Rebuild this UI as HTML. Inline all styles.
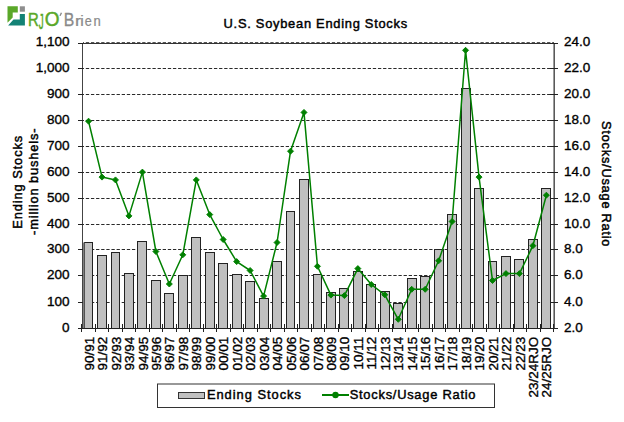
<!DOCTYPE html><html><head><meta charset="utf-8"><style>
html,body{margin:0;padding:0;background:#fff;width:624px;height:422px;overflow:hidden}
svg{display:block}
text{font-family:"Liberation Sans", sans-serif}
</style></head><body>
<svg width="624" height="422" viewBox="0 0 624 422">
<rect width="624" height="422" fill="#fff"/>
<polygon points="7.5,6.3 17.8,6.3 17.8,12.5 12.7,12.5 12.7,17.4 7.5,22.8" fill="#5aa829"/>
<rect x="19.8" y="6.3" width="5.1" height="5.4" fill="#8e8e8e"/>
<polygon points="19.8,14 24.9,14 24.9,25.6 8.1,25.6 13.5,19.6 19.8,19.6" fill="#138275"/>
<text transform="translate(28.08,25.90) scale(0.80,1.00)" font-size="18.6" fill="#5aa829" stroke="#5aa829" stroke-width="0.45">R</text>
<text transform="translate(38.74,28.70) scale(0.53,1.21)" font-size="18.6" fill="#5aa829" stroke="#5aa829" stroke-width="0.45">J</text>
<text transform="translate(44.70,26.00) scale(1.02,1.04)" font-size="18.6" fill="#5aa829" stroke="#5aa829" stroke-width="0.45">O</text>
<text transform="translate(63.70,25.90) scale(0.85,0.95)" font-size="18.6" fill="#8a8a8a" stroke="#8a8a8a" stroke-width="0.30">B</text>
<text transform="translate(75.10,25.90) scale(0.97,0.81)" font-size="18.6" fill="#8a8a8a" stroke="#8a8a8a" stroke-width="0.30">r</text>
<text transform="translate(80.14,25.90) scale(0.85,0.81)" font-size="18.6" fill="#8a8a8a" stroke="#8a8a8a" stroke-width="0.30">i</text>
<text transform="translate(84.87,25.90) scale(0.68,0.81)" font-size="18.6" fill="#8a8a8a" stroke="#8a8a8a" stroke-width="0.30">e</text>
<text transform="translate(93.44,25.90) scale(0.70,0.81)" font-size="18.6" fill="#8a8a8a" stroke="#8a8a8a" stroke-width="0.30">n</text>
<polygon points="60.8,12.6 62.1,12.9 60.6,15.9 59.4,15.7" fill="#8a8a8a"/>
<text x="223.6" y="28" font-size="12.9" fill="#000" stroke="#000" stroke-width="0.45" letter-spacing="0.72">U.S. Soybean Ending Stocks</text>
<line x1="83" y1="302.5" x2="554" y2="302.5" stroke="#2a2a2a" stroke-width="1.1" stroke-dasharray="3.3 1.825" stroke-dashoffset="2.3"/>
<line x1="83" y1="275.5" x2="554" y2="275.5" stroke="#2a2a2a" stroke-width="1.1" stroke-dasharray="3.3 1.825" stroke-dashoffset="2.3"/>
<line x1="83" y1="249.5" x2="554" y2="249.5" stroke="#2a2a2a" stroke-width="1.1" stroke-dasharray="3.3 1.825" stroke-dashoffset="2.3"/>
<line x1="83" y1="224.5" x2="554" y2="224.5" stroke="#2a2a2a" stroke-width="1.1" stroke-dasharray="3.3 1.825" stroke-dashoffset="2.3"/>
<line x1="83" y1="198.5" x2="554" y2="198.5" stroke="#2a2a2a" stroke-width="1.1" stroke-dasharray="3.3 1.825" stroke-dashoffset="2.3"/>
<line x1="83" y1="172.5" x2="554" y2="172.5" stroke="#2a2a2a" stroke-width="1.1" stroke-dasharray="3.3 1.825" stroke-dashoffset="2.3"/>
<line x1="83" y1="146.5" x2="554" y2="146.5" stroke="#2a2a2a" stroke-width="1.1" stroke-dasharray="3.3 1.825" stroke-dashoffset="2.3"/>
<line x1="83" y1="120.5" x2="554" y2="120.5" stroke="#2a2a2a" stroke-width="1.1" stroke-dasharray="3.3 1.825" stroke-dashoffset="2.3"/>
<line x1="83" y1="94.5" x2="554" y2="94.5" stroke="#2a2a2a" stroke-width="1.1" stroke-dasharray="3.3 1.825" stroke-dashoffset="2.3"/>
<line x1="83" y1="68.5" x2="554" y2="68.5" stroke="#2a2a2a" stroke-width="1.1" stroke-dasharray="3.3 1.825" stroke-dashoffset="2.3"/>
<line x1="83" y1="42.5" x2="554" y2="42.5" stroke="#555" stroke-width="1" stroke-dasharray="3.3 1.825" stroke-dashoffset="2.3"/>
<line x1="82" y1="43.5" x2="554" y2="43.5" stroke="#333" stroke-width="1"/>
<rect x="84.5" y="242.5" width="8.0" height="86.0" fill="#c0c0c0" stroke="#222" stroke-width="1"/>
<rect x="97.5" y="255.5" width="9.0" height="73.0" fill="#c0c0c0" stroke="#222" stroke-width="1"/>
<rect x="111.5" y="252.5" width="8.0" height="76.0" fill="#c0c0c0" stroke="#222" stroke-width="1"/>
<rect x="124.5" y="273.5" width="9.0" height="55.0" fill="#c0c0c0" stroke="#222" stroke-width="1"/>
<rect x="137.5" y="241.5" width="9.0" height="87.0" fill="#c0c0c0" stroke="#222" stroke-width="1"/>
<rect x="151.5" y="280.5" width="9.0" height="48.0" fill="#c0c0c0" stroke="#222" stroke-width="1"/>
<rect x="164.5" y="293.5" width="9.0" height="35.0" fill="#c0c0c0" stroke="#222" stroke-width="1"/>
<rect x="178.5" y="275.5" width="9.0" height="53.0" fill="#c0c0c0" stroke="#222" stroke-width="1"/>
<rect x="191.5" y="237.5" width="9.0" height="91.0" fill="#c0c0c0" stroke="#222" stroke-width="1"/>
<rect x="205.5" y="252.5" width="9.0" height="76.0" fill="#c0c0c0" stroke="#222" stroke-width="1"/>
<rect x="218.5" y="263.5" width="9.0" height="65.0" fill="#c0c0c0" stroke="#222" stroke-width="1"/>
<rect x="232.5" y="274.5" width="9.0" height="54.0" fill="#c0c0c0" stroke="#222" stroke-width="1"/>
<rect x="245.5" y="281.5" width="9.0" height="47.0" fill="#c0c0c0" stroke="#222" stroke-width="1"/>
<rect x="259.5" y="298.5" width="9.0" height="30.0" fill="#c0c0c0" stroke="#222" stroke-width="1"/>
<rect x="272.5" y="261.5" width="9.0" height="67.0" fill="#c0c0c0" stroke="#222" stroke-width="1"/>
<rect x="286.5" y="211.5" width="8.0" height="117.0" fill="#c0c0c0" stroke="#222" stroke-width="1"/>
<rect x="299.5" y="179.5" width="9.0" height="149.0" fill="#c0c0c0" stroke="#222" stroke-width="1"/>
<rect x="313.5" y="274.5" width="8.0" height="54.0" fill="#c0c0c0" stroke="#222" stroke-width="1"/>
<rect x="326.5" y="292.5" width="9.0" height="36.0" fill="#c0c0c0" stroke="#222" stroke-width="1"/>
<rect x="339.5" y="288.5" width="9.0" height="40.0" fill="#c0c0c0" stroke="#222" stroke-width="1"/>
<rect x="353.5" y="271.5" width="9.0" height="57.0" fill="#c0c0c0" stroke="#222" stroke-width="1"/>
<rect x="366.5" y="284.5" width="9.0" height="44.0" fill="#c0c0c0" stroke="#222" stroke-width="1"/>
<rect x="380.5" y="291.5" width="9.0" height="37.0" fill="#c0c0c0" stroke="#222" stroke-width="1"/>
<rect x="393.5" y="303.5" width="9.0" height="25.0" fill="#c0c0c0" stroke="#222" stroke-width="1"/>
<rect x="407.5" y="278.5" width="9.0" height="50.0" fill="#c0c0c0" stroke="#222" stroke-width="1"/>
<rect x="420.5" y="276.5" width="9.0" height="52.0" fill="#c0c0c0" stroke="#222" stroke-width="1"/>
<rect x="434.5" y="249.5" width="9.0" height="79.0" fill="#c0c0c0" stroke="#222" stroke-width="1"/>
<rect x="447.5" y="214.5" width="9.0" height="114.0" fill="#c0c0c0" stroke="#222" stroke-width="1"/>
<rect x="461.5" y="88.5" width="9.0" height="240.0" fill="#c0c0c0" stroke="#222" stroke-width="1"/>
<rect x="474.5" y="188.5" width="9.0" height="140.0" fill="#c0c0c0" stroke="#222" stroke-width="1"/>
<rect x="488.5" y="261.5" width="8.0" height="67.0" fill="#c0c0c0" stroke="#222" stroke-width="1"/>
<rect x="501.5" y="256.5" width="9.0" height="72.0" fill="#c0c0c0" stroke="#222" stroke-width="1"/>
<rect x="514.5" y="259.5" width="9.0" height="69.0" fill="#c0c0c0" stroke="#222" stroke-width="1"/>
<rect x="528.5" y="239.5" width="9.0" height="89.0" fill="#c0c0c0" stroke="#222" stroke-width="1"/>
<rect x="541.5" y="188.5" width="9.0" height="140.0" fill="#c0c0c0" stroke="#222" stroke-width="1"/>
<rect x="82" y="242.5" width="2.5" height="86.0" fill="#808080"/>
<line x1="82.5" y1="43" x2="82.5" y2="329" stroke="#444" stroke-width="1"/>
<line x1="554.2" y1="43" x2="554.2" y2="329" stroke="#5a5a5a" stroke-width="1.6"/>
<line x1="78" y1="328.5" x2="557" y2="328.5" stroke="#222" stroke-width="1"/>
<line x1="78" y1="328.5" x2="83" y2="328.5" stroke="#222" stroke-width="1"/>
<line x1="550" y1="328.5" x2="558" y2="328.5" stroke="#222" stroke-width="1"/>
<line x1="78" y1="302.5" x2="83" y2="302.5" stroke="#222" stroke-width="1"/>
<line x1="550" y1="302.5" x2="558" y2="302.5" stroke="#222" stroke-width="1"/>
<line x1="78" y1="275.5" x2="83" y2="275.5" stroke="#222" stroke-width="1"/>
<line x1="550" y1="275.5" x2="558" y2="275.5" stroke="#222" stroke-width="1"/>
<line x1="78" y1="249.5" x2="83" y2="249.5" stroke="#222" stroke-width="1"/>
<line x1="550" y1="249.5" x2="558" y2="249.5" stroke="#222" stroke-width="1"/>
<line x1="78" y1="224.5" x2="83" y2="224.5" stroke="#222" stroke-width="1"/>
<line x1="550" y1="224.5" x2="558" y2="224.5" stroke="#222" stroke-width="1"/>
<line x1="78" y1="198.5" x2="83" y2="198.5" stroke="#222" stroke-width="1"/>
<line x1="550" y1="198.5" x2="558" y2="198.5" stroke="#222" stroke-width="1"/>
<line x1="78" y1="172.5" x2="83" y2="172.5" stroke="#222" stroke-width="1"/>
<line x1="550" y1="172.5" x2="558" y2="172.5" stroke="#222" stroke-width="1"/>
<line x1="78" y1="146.5" x2="83" y2="146.5" stroke="#222" stroke-width="1"/>
<line x1="550" y1="146.5" x2="558" y2="146.5" stroke="#222" stroke-width="1"/>
<line x1="78" y1="120.5" x2="83" y2="120.5" stroke="#222" stroke-width="1"/>
<line x1="550" y1="120.5" x2="558" y2="120.5" stroke="#222" stroke-width="1"/>
<line x1="78" y1="94.5" x2="83" y2="94.5" stroke="#222" stroke-width="1"/>
<line x1="550" y1="94.5" x2="558" y2="94.5" stroke="#222" stroke-width="1"/>
<line x1="78" y1="68.5" x2="83" y2="68.5" stroke="#222" stroke-width="1"/>
<line x1="550" y1="68.5" x2="558" y2="68.5" stroke="#222" stroke-width="1"/>
<line x1="78" y1="43.5" x2="83" y2="43.5" stroke="#222" stroke-width="1"/>
<line x1="550" y1="43.5" x2="558" y2="43.5" stroke="#222" stroke-width="1"/>
<line x1="81.5" y1="324" x2="81.5" y2="332" stroke="#222" stroke-width="1"/>
<line x1="95.5" y1="324" x2="95.5" y2="332" stroke="#222" stroke-width="1"/>
<line x1="108.5" y1="324" x2="108.5" y2="332" stroke="#222" stroke-width="1"/>
<line x1="122.5" y1="324" x2="122.5" y2="332" stroke="#222" stroke-width="1"/>
<line x1="135.5" y1="324" x2="135.5" y2="332" stroke="#222" stroke-width="1"/>
<line x1="149.5" y1="324" x2="149.5" y2="332" stroke="#222" stroke-width="1"/>
<line x1="162.5" y1="324" x2="162.5" y2="332" stroke="#222" stroke-width="1"/>
<line x1="176.5" y1="324" x2="176.5" y2="332" stroke="#222" stroke-width="1"/>
<line x1="189.5" y1="324" x2="189.5" y2="332" stroke="#222" stroke-width="1"/>
<line x1="203.5" y1="324" x2="203.5" y2="332" stroke="#222" stroke-width="1"/>
<line x1="216.5" y1="324" x2="216.5" y2="332" stroke="#222" stroke-width="1"/>
<line x1="230.5" y1="324" x2="230.5" y2="332" stroke="#222" stroke-width="1"/>
<line x1="243.5" y1="324" x2="243.5" y2="332" stroke="#222" stroke-width="1"/>
<line x1="257.5" y1="324" x2="257.5" y2="332" stroke="#222" stroke-width="1"/>
<line x1="270.5" y1="324" x2="270.5" y2="332" stroke="#222" stroke-width="1"/>
<line x1="284.5" y1="324" x2="284.5" y2="332" stroke="#222" stroke-width="1"/>
<line x1="297.5" y1="324" x2="297.5" y2="332" stroke="#222" stroke-width="1"/>
<line x1="311.5" y1="324" x2="311.5" y2="332" stroke="#222" stroke-width="1"/>
<line x1="324.5" y1="324" x2="324.5" y2="332" stroke="#222" stroke-width="1"/>
<line x1="338.5" y1="324" x2="338.5" y2="332" stroke="#222" stroke-width="1"/>
<line x1="351.5" y1="324" x2="351.5" y2="332" stroke="#222" stroke-width="1"/>
<line x1="365.5" y1="324" x2="365.5" y2="332" stroke="#222" stroke-width="1"/>
<line x1="378.5" y1="324" x2="378.5" y2="332" stroke="#222" stroke-width="1"/>
<line x1="392.5" y1="324" x2="392.5" y2="332" stroke="#222" stroke-width="1"/>
<line x1="405.5" y1="324" x2="405.5" y2="332" stroke="#222" stroke-width="1"/>
<line x1="418.5" y1="324" x2="418.5" y2="332" stroke="#222" stroke-width="1"/>
<line x1="432.5" y1="324" x2="432.5" y2="332" stroke="#222" stroke-width="1"/>
<line x1="445.5" y1="324" x2="445.5" y2="332" stroke="#222" stroke-width="1"/>
<line x1="459.5" y1="324" x2="459.5" y2="332" stroke="#222" stroke-width="1"/>
<line x1="472.5" y1="324" x2="472.5" y2="332" stroke="#222" stroke-width="1"/>
<line x1="486.5" y1="324" x2="486.5" y2="332" stroke="#222" stroke-width="1"/>
<line x1="499.5" y1="324" x2="499.5" y2="332" stroke="#222" stroke-width="1"/>
<line x1="513.5" y1="324" x2="513.5" y2="332" stroke="#222" stroke-width="1"/>
<line x1="526.5" y1="324" x2="526.5" y2="332" stroke="#222" stroke-width="1"/>
<line x1="540.5" y1="324" x2="540.5" y2="332" stroke="#222" stroke-width="1"/>
<line x1="553.5" y1="324" x2="553.5" y2="332" stroke="#222" stroke-width="1"/>
<polyline points="88.55,121.20 102.02,177.10 115.48,179.90 128.94,215.90 142.41,172.10 155.88,251.50 169.34,284.00 182.81,254.80 196.27,179.90 209.74,214.60 223.20,239.50 236.67,261.60 250.13,270.50 263.59,296.10 277.06,242.50 290.52,151.20 303.99,112.40 317.45,266.30 330.92,295.10 344.38,295.60 357.85,268.60 371.31,284.50 384.78,294.80 398.25,319.30 411.71,289.30 425.18,289.30 438.64,260.80 452.11,221.50 465.57,50.30 479.04,177.10 492.50,280.50 505.97,273.60 519.43,273.60 532.89,245.70 546.36,195.20" fill="none" stroke="#008000" stroke-width="1.5" stroke-linejoin="round"/>
<polygon points="85.55,121.20 88.55,118.20 91.55,121.20 88.55,124.20" fill="#008000" stroke="#008000" stroke-width="0.9" stroke-linejoin="round"/>
<polygon points="99.02,177.10 102.02,174.10 105.02,177.10 102.02,180.10" fill="#008000" stroke="#008000" stroke-width="0.9" stroke-linejoin="round"/>
<polygon points="112.48,179.90 115.48,176.90 118.48,179.90 115.48,182.90" fill="#008000" stroke="#008000" stroke-width="0.9" stroke-linejoin="round"/>
<polygon points="125.94,215.90 128.94,212.90 131.94,215.90 128.94,218.90" fill="#008000" stroke="#008000" stroke-width="0.9" stroke-linejoin="round"/>
<polygon points="139.41,172.10 142.41,169.10 145.41,172.10 142.41,175.10" fill="#008000" stroke="#008000" stroke-width="0.9" stroke-linejoin="round"/>
<polygon points="152.88,251.50 155.88,248.50 158.88,251.50 155.88,254.50" fill="#008000" stroke="#008000" stroke-width="0.9" stroke-linejoin="round"/>
<polygon points="166.34,284.00 169.34,281.00 172.34,284.00 169.34,287.00" fill="#008000" stroke="#008000" stroke-width="0.9" stroke-linejoin="round"/>
<polygon points="179.81,254.80 182.81,251.80 185.81,254.80 182.81,257.80" fill="#008000" stroke="#008000" stroke-width="0.9" stroke-linejoin="round"/>
<polygon points="193.27,179.90 196.27,176.90 199.27,179.90 196.27,182.90" fill="#008000" stroke="#008000" stroke-width="0.9" stroke-linejoin="round"/>
<polygon points="206.74,214.60 209.74,211.60 212.74,214.60 209.74,217.60" fill="#008000" stroke="#008000" stroke-width="0.9" stroke-linejoin="round"/>
<polygon points="220.20,239.50 223.20,236.50 226.20,239.50 223.20,242.50" fill="#008000" stroke="#008000" stroke-width="0.9" stroke-linejoin="round"/>
<polygon points="233.67,261.60 236.67,258.60 239.67,261.60 236.67,264.60" fill="#008000" stroke="#008000" stroke-width="0.9" stroke-linejoin="round"/>
<polygon points="247.13,270.50 250.13,267.50 253.13,270.50 250.13,273.50" fill="#008000" stroke="#008000" stroke-width="0.9" stroke-linejoin="round"/>
<polygon points="260.59,296.10 263.59,293.10 266.59,296.10 263.59,299.10" fill="#008000" stroke="#008000" stroke-width="0.9" stroke-linejoin="round"/>
<polygon points="274.06,242.50 277.06,239.50 280.06,242.50 277.06,245.50" fill="#008000" stroke="#008000" stroke-width="0.9" stroke-linejoin="round"/>
<polygon points="287.52,151.20 290.52,148.20 293.52,151.20 290.52,154.20" fill="#008000" stroke="#008000" stroke-width="0.9" stroke-linejoin="round"/>
<polygon points="300.99,112.40 303.99,109.40 306.99,112.40 303.99,115.40" fill="#008000" stroke="#008000" stroke-width="0.9" stroke-linejoin="round"/>
<polygon points="314.45,266.30 317.45,263.30 320.45,266.30 317.45,269.30" fill="#008000" stroke="#008000" stroke-width="0.9" stroke-linejoin="round"/>
<polygon points="327.92,295.10 330.92,292.10 333.92,295.10 330.92,298.10" fill="#008000" stroke="#008000" stroke-width="0.9" stroke-linejoin="round"/>
<polygon points="341.38,295.60 344.38,292.60 347.38,295.60 344.38,298.60" fill="#008000" stroke="#008000" stroke-width="0.9" stroke-linejoin="round"/>
<polygon points="354.85,268.60 357.85,265.60 360.85,268.60 357.85,271.60" fill="#008000" stroke="#008000" stroke-width="0.9" stroke-linejoin="round"/>
<polygon points="368.31,284.50 371.31,281.50 374.31,284.50 371.31,287.50" fill="#008000" stroke="#008000" stroke-width="0.9" stroke-linejoin="round"/>
<polygon points="381.78,294.80 384.78,291.80 387.78,294.80 384.78,297.80" fill="#008000" stroke="#008000" stroke-width="0.9" stroke-linejoin="round"/>
<polygon points="395.25,319.30 398.25,316.30 401.25,319.30 398.25,322.30" fill="#008000" stroke="#008000" stroke-width="0.9" stroke-linejoin="round"/>
<polygon points="408.71,289.30 411.71,286.30 414.71,289.30 411.71,292.30" fill="#008000" stroke="#008000" stroke-width="0.9" stroke-linejoin="round"/>
<polygon points="422.18,289.30 425.18,286.30 428.18,289.30 425.18,292.30" fill="#008000" stroke="#008000" stroke-width="0.9" stroke-linejoin="round"/>
<polygon points="435.64,260.80 438.64,257.80 441.64,260.80 438.64,263.80" fill="#008000" stroke="#008000" stroke-width="0.9" stroke-linejoin="round"/>
<polygon points="449.11,221.50 452.11,218.50 455.11,221.50 452.11,224.50" fill="#008000" stroke="#008000" stroke-width="0.9" stroke-linejoin="round"/>
<polygon points="462.57,50.30 465.57,47.30 468.57,50.30 465.57,53.30" fill="#008000" stroke="#008000" stroke-width="0.9" stroke-linejoin="round"/>
<polygon points="476.04,177.10 479.04,174.10 482.04,177.10 479.04,180.10" fill="#008000" stroke="#008000" stroke-width="0.9" stroke-linejoin="round"/>
<polygon points="489.50,280.50 492.50,277.50 495.50,280.50 492.50,283.50" fill="#008000" stroke="#008000" stroke-width="0.9" stroke-linejoin="round"/>
<polygon points="502.97,273.60 505.97,270.60 508.97,273.60 505.97,276.60" fill="#008000" stroke="#008000" stroke-width="0.9" stroke-linejoin="round"/>
<polygon points="516.43,273.60 519.43,270.60 522.43,273.60 519.43,276.60" fill="#008000" stroke="#008000" stroke-width="0.9" stroke-linejoin="round"/>
<polygon points="529.89,245.70 532.89,242.70 535.89,245.70 532.89,248.70" fill="#008000" stroke="#008000" stroke-width="0.9" stroke-linejoin="round"/>
<polygon points="543.36,195.20 546.36,192.20 549.36,195.20 546.36,198.20" fill="#008000" stroke="#008000" stroke-width="0.9" stroke-linejoin="round"/>
<text x="69.5" y="331.9" font-size="13.5" text-anchor="end" fill="#000" stroke="#000" stroke-width="0.35">0</text>
<text x="69.5" y="305.9" font-size="13.5" text-anchor="end" fill="#000" stroke="#000" stroke-width="0.35">100</text>
<text x="69.5" y="278.9" font-size="13.5" text-anchor="end" fill="#000" stroke="#000" stroke-width="0.35">200</text>
<text x="69.5" y="252.8" font-size="13.5" text-anchor="end" fill="#000" stroke="#000" stroke-width="0.35">300</text>
<text x="69.5" y="227.8" font-size="13.5" text-anchor="end" fill="#000" stroke="#000" stroke-width="0.35">400</text>
<text x="69.5" y="201.8" font-size="13.5" text-anchor="end" fill="#000" stroke="#000" stroke-width="0.35">500</text>
<text x="69.5" y="175.8" font-size="13.5" text-anchor="end" fill="#000" stroke="#000" stroke-width="0.35">600</text>
<text x="69.5" y="149.8" font-size="13.5" text-anchor="end" fill="#000" stroke="#000" stroke-width="0.35">700</text>
<text x="69.5" y="123.8" font-size="13.5" text-anchor="end" fill="#000" stroke="#000" stroke-width="0.35">800</text>
<text x="69.5" y="97.8" font-size="13.5" text-anchor="end" fill="#000" stroke="#000" stroke-width="0.35">900</text>
<text x="69.5" y="71.8" font-size="13.5" text-anchor="end" fill="#000" stroke="#000" stroke-width="0.35">1,000</text>
<text x="69.5" y="45.7" font-size="13.5" text-anchor="end" fill="#000" stroke="#000" stroke-width="0.35">1,100</text>
<text x="564" y="331.9" font-size="13.5" fill="#000" stroke="#000" stroke-width="0.35">2.0</text>
<text x="564" y="305.9" font-size="13.5" fill="#000" stroke="#000" stroke-width="0.35">4.0</text>
<text x="564" y="278.9" font-size="13.5" fill="#000" stroke="#000" stroke-width="0.35">6.0</text>
<text x="564" y="252.8" font-size="13.5" fill="#000" stroke="#000" stroke-width="0.35">8.0</text>
<text x="564" y="227.8" font-size="13.5" fill="#000" stroke="#000" stroke-width="0.35">10.0</text>
<text x="564" y="201.8" font-size="13.5" fill="#000" stroke="#000" stroke-width="0.35">12.0</text>
<text x="564" y="175.8" font-size="13.5" fill="#000" stroke="#000" stroke-width="0.35">14.0</text>
<text x="564" y="149.8" font-size="13.5" fill="#000" stroke="#000" stroke-width="0.35">16.0</text>
<text x="564" y="123.8" font-size="13.5" fill="#000" stroke="#000" stroke-width="0.35">18.0</text>
<text x="564" y="97.8" font-size="13.5" fill="#000" stroke="#000" stroke-width="0.35">20.0</text>
<text x="564" y="71.8" font-size="13.5" fill="#000" stroke="#000" stroke-width="0.35">22.0</text>
<text x="564" y="45.8" font-size="13.5" fill="#000" stroke="#000" stroke-width="0.35">24.0</text>
<text transform="translate(93.65,336.7) rotate(-90)" font-size="13.5" text-anchor="end" fill="#000" stroke="#000" stroke-width="0.35">90/91</text>
<text transform="translate(107.11,336.7) rotate(-90)" font-size="13.5" text-anchor="end" fill="#000" stroke="#000" stroke-width="0.35">91/92</text>
<text transform="translate(120.58,336.7) rotate(-90)" font-size="13.5" text-anchor="end" fill="#000" stroke="#000" stroke-width="0.35">92/93</text>
<text transform="translate(134.04,336.7) rotate(-90)" font-size="13.5" text-anchor="end" fill="#000" stroke="#000" stroke-width="0.35">93/94</text>
<text transform="translate(147.51,336.7) rotate(-90)" font-size="13.5" text-anchor="end" fill="#000" stroke="#000" stroke-width="0.35">94/95</text>
<text transform="translate(160.97,336.7) rotate(-90)" font-size="13.5" text-anchor="end" fill="#000" stroke="#000" stroke-width="0.35">95/96</text>
<text transform="translate(174.44,336.7) rotate(-90)" font-size="13.5" text-anchor="end" fill="#000" stroke="#000" stroke-width="0.35">96/97</text>
<text transform="translate(187.91,336.7) rotate(-90)" font-size="13.5" text-anchor="end" fill="#000" stroke="#000" stroke-width="0.35">97/98</text>
<text transform="translate(201.37,336.7) rotate(-90)" font-size="13.5" text-anchor="end" fill="#000" stroke="#000" stroke-width="0.35">98/99</text>
<text transform="translate(214.84,336.7) rotate(-90)" font-size="13.5" text-anchor="end" fill="#000" stroke="#000" stroke-width="0.35">99/00</text>
<text transform="translate(228.30,336.7) rotate(-90)" font-size="13.5" text-anchor="end" fill="#000" stroke="#000" stroke-width="0.35">00/01</text>
<text transform="translate(241.77,336.7) rotate(-90)" font-size="13.5" text-anchor="end" fill="#000" stroke="#000" stroke-width="0.35">01/02</text>
<text transform="translate(255.23,336.7) rotate(-90)" font-size="13.5" text-anchor="end" fill="#000" stroke="#000" stroke-width="0.35">02/03</text>
<text transform="translate(268.69,336.7) rotate(-90)" font-size="13.5" text-anchor="end" fill="#000" stroke="#000" stroke-width="0.35">03/04</text>
<text transform="translate(282.16,336.7) rotate(-90)" font-size="13.5" text-anchor="end" fill="#000" stroke="#000" stroke-width="0.35">04/05</text>
<text transform="translate(295.62,336.7) rotate(-90)" font-size="13.5" text-anchor="end" fill="#000" stroke="#000" stroke-width="0.35">05/06</text>
<text transform="translate(309.09,336.7) rotate(-90)" font-size="13.5" text-anchor="end" fill="#000" stroke="#000" stroke-width="0.35">06/07</text>
<text transform="translate(322.56,336.7) rotate(-90)" font-size="13.5" text-anchor="end" fill="#000" stroke="#000" stroke-width="0.35">07/08</text>
<text transform="translate(336.02,336.7) rotate(-90)" font-size="13.5" text-anchor="end" fill="#000" stroke="#000" stroke-width="0.35">08/09</text>
<text transform="translate(349.49,336.7) rotate(-90)" font-size="13.5" text-anchor="end" fill="#000" stroke="#000" stroke-width="0.35">09/10</text>
<text transform="translate(362.95,336.7) rotate(-90)" font-size="13.5" text-anchor="end" fill="#000" stroke="#000" stroke-width="0.35">10/11</text>
<text transform="translate(376.42,336.7) rotate(-90)" font-size="13.5" text-anchor="end" fill="#000" stroke="#000" stroke-width="0.35">11/12</text>
<text transform="translate(389.88,336.7) rotate(-90)" font-size="13.5" text-anchor="end" fill="#000" stroke="#000" stroke-width="0.35">12/13</text>
<text transform="translate(403.35,336.7) rotate(-90)" font-size="13.5" text-anchor="end" fill="#000" stroke="#000" stroke-width="0.35">13/14</text>
<text transform="translate(416.81,336.7) rotate(-90)" font-size="13.5" text-anchor="end" fill="#000" stroke="#000" stroke-width="0.35">14/15</text>
<text transform="translate(430.28,336.7) rotate(-90)" font-size="13.5" text-anchor="end" fill="#000" stroke="#000" stroke-width="0.35">15/16</text>
<text transform="translate(443.74,336.7) rotate(-90)" font-size="13.5" text-anchor="end" fill="#000" stroke="#000" stroke-width="0.35">16/17</text>
<text transform="translate(457.21,336.7) rotate(-90)" font-size="13.5" text-anchor="end" fill="#000" stroke="#000" stroke-width="0.35">17/18</text>
<text transform="translate(470.67,336.7) rotate(-90)" font-size="13.5" text-anchor="end" fill="#000" stroke="#000" stroke-width="0.35">18/19</text>
<text transform="translate(484.14,336.7) rotate(-90)" font-size="13.5" text-anchor="end" fill="#000" stroke="#000" stroke-width="0.35">19/20</text>
<text transform="translate(497.60,336.7) rotate(-90)" font-size="13.5" text-anchor="end" fill="#000" stroke="#000" stroke-width="0.35">20/21</text>
<text transform="translate(511.07,336.7) rotate(-90)" font-size="13.5" text-anchor="end" fill="#000" stroke="#000" stroke-width="0.35">21/22</text>
<text transform="translate(524.53,336.7) rotate(-90)" font-size="13.5" text-anchor="end" fill="#000" stroke="#000" stroke-width="0.35">22/23</text>
<text transform="translate(538.00,336.7) rotate(-90)" font-size="13.5" text-anchor="end" fill="#000" stroke="#000" stroke-width="0.35">23/24RJO</text>
<text transform="translate(551.46,336.7) rotate(-90)" font-size="13.5" text-anchor="end" fill="#000" stroke="#000" stroke-width="0.35">24/25RJO</text>
<text transform="translate(22.1,228.8) rotate(-90)" font-size="12.9" fill="#000" stroke="#000" stroke-width="0.45" letter-spacing="0.89">Ending Stocks</text>
<text transform="translate(38,235) rotate(-90)" font-size="12.9" fill="#000" stroke="#000" stroke-width="0.45" letter-spacing="0.84">-million bushels-</text>
<text transform="translate(601.7,121.1) rotate(90)" font-size="12.9" fill="#000" stroke="#000" stroke-width="0.45" letter-spacing="0.72">Stocks/Usage Ratio</text>
<rect x="157.5" y="384" width="337" height="23.5" fill="#fff" stroke="#333" stroke-width="1"/>
<rect x="178.5" y="392.5" width="26" height="6" fill="#c0c0c0" stroke="#333" stroke-width="1"/>
<text x="206.9" y="399.1" font-size="12.9" fill="#000" stroke="#000" stroke-width="0.45" letter-spacing="0.97">Ending Stocks</text>
<line x1="322" y1="395" x2="349" y2="395" stroke="#008000" stroke-width="2"/>
<circle cx="335.5" cy="395" r="3.2" fill="#008000"/>
<text x="349.7" y="399.1" font-size="12.9" fill="#000" stroke="#000" stroke-width="0.45" letter-spacing="0.74">Stocks/Usage Ratio</text>
</svg></body></html>
